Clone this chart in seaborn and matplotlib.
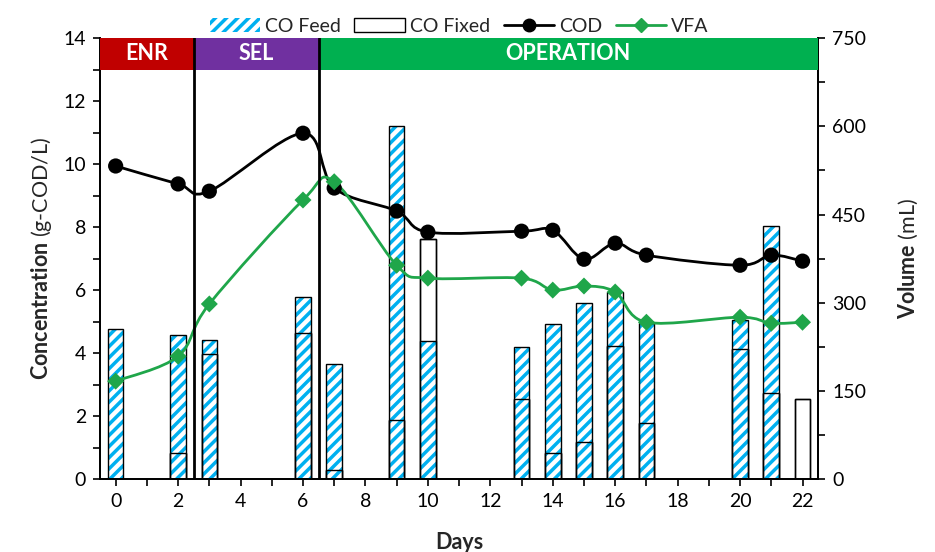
import matplotlib
matplotlib.use("Agg")
import matplotlib.pyplot as plt
import numpy as np
import seaborn as sns
from matplotlib.lines import Line2D
from matplotlib.patches import Patch, PathPatch
from matplotlib.path import Path
from matplotlib.ticker import MultipleLocator

# Days of sampling
days = [0, 2, 3, 6, 7, 9, 10, 13, 14, 15, 16, 17, 20, 21, 22]
# Concentrations (g-COD/L)
cod = [9.94, 9.37, 9.14, 10.98, 9.24, 8.51, 7.84, 7.87, 7.90, 6.98, 7.49, 7.11, 6.79, 7.11, 6.92]
vfa = [3.11, 3.90, 5.56, 8.86, 9.44, 6.79, 6.38, 6.38, 6.00, 6.13, 5.94, 4.98, 5.14, 4.95, 4.98]
# Volumes (mL)
co_feed = [255, 245, 237, 310, 196, 600, 235, 224, 264, 300, 318, 266, 271, 430, 0]
co_fixed = [0, 44, 213, 249, 16, 100, 408, 136, 44, 63, 226, 95, 221, 146, 136]

# Phases
phases = ["ENR", "SEL", "OPERATION"]
phase_edges = [-0.5, 2.5, 6.5, 22.5]
phase_colors = ["#C00000", "#7030A0", "#00B050"]

blue = "#00B0F0"
green = "#1FA64A"

sns.set_theme(style="white")
plt.rcParams["font.family"] = ["Lato", "DejaVu Sans"]
plt.rcParams["mathtext.fontset"] = "custom"
plt.rcParams["mathtext.rm"] = "Lato"
plt.rcParams["mathtext.bf"] = "Lato:bold"
plt.rcParams["hatch.linewidth"] = 2.5


def smooth_path(x, y):
    # Excel-like smoothed line through the points
    pts = np.column_stack([x, y]).astype(float)
    n = len(pts)
    verts = [pts[0]]
    codes = [Path.MOVETO]
    for i in range(n - 1):
        p0 = pts[max(i - 1, 0)]
        p1 = pts[i]
        p2 = pts[i + 1]
        p3 = pts[min(i + 2, n - 1)]
        verts += [p1 + (p2 - p0) / 6, p2 - (p3 - p1) / 6, p2]
        codes += [Path.CURVE4] * 3
    return Path(verts, codes)


fig = plt.figure(figsize=(9.35, 5.52), dpi=100)
ax = fig.add_axes([0.107, 0.132, 0.768, 0.799])
ax2 = ax.twinx()
ax.set_zorder(ax2.get_zorder() + 1)
ax.patch.set_visible(False)

# Bars on the volume axis
w = 0.5
ax2.bar(days, co_fixed, width=w, facecolor="white", edgecolor="black", linewidth=1.0, zorder=1)
ax2.bar(days, co_feed, width=w, facecolor="white", edgecolor=blue, linewidth=0, hatch="///", zorder=2)
ax2.bar(days, co_fixed, width=w, facecolor="none", edgecolor="black", linewidth=1.0, zorder=3)
ax2.bar(days, co_feed, width=w, facecolor="none", edgecolor="black", linewidth=1.0, zorder=3)
ax2.set_ylim(0, 750)
ax2.yaxis.set_major_locator(MultipleLocator(150))
ax2.yaxis.set_minor_locator(MultipleLocator(75))
ax2.set_ylabel(r"$\mathbf{Volume}$ (mL)", fontsize=15.5, labelpad=22)

# Lines on the concentration axis
ax.add_patch(PathPatch(smooth_path(days, cod), facecolor="none", edgecolor="black", lw=2.0, zorder=4))
ax.add_patch(PathPatch(smooth_path(days, vfa), facecolor="none", edgecolor=green, lw=2.0, zorder=4))
sns.scatterplot(x=days, y=cod, ax=ax, color="black", marker="o", s=120, edgecolor="none", zorder=5)
sns.scatterplot(x=days, y=vfa, ax=ax, color=green, marker="D", s=75, edgecolor="none", zorder=5)

# Phase bands and separators
for name, x0, x1, c in zip(phases, phase_edges[:-1], phase_edges[1:], phase_colors):
    ax.fill_between([x0, x1], 13, 14, color=c, zorder=6, linewidth=0)
    ax.text((x0 + x1) / 2, 13.5, name, color="white", fontweight="bold", fontsize=15.5,
            ha="center", va="center", zorder=7)
for xv in phase_edges[1:-1]:
    ax.axvline(xv, color="black", lw=2.0, zorder=7)

ax.set_xlim(-0.5, 22.5)
ax.set_ylim(0, 14)
ax.xaxis.set_major_locator(MultipleLocator(2))
ax.xaxis.set_minor_locator(MultipleLocator(1))
ax.yaxis.set_major_locator(MultipleLocator(2))
ax.yaxis.set_minor_locator(MultipleLocator(1))
ax.set_xlabel("Days", fontsize=15.5, fontweight="bold", labelpad=16)
ax.set_ylabel(r"$\mathbf{Concentration}$ (g-COD/L)", fontsize=15.5, labelpad=7)

for a in (ax, ax2):
    a.tick_params(which="both", direction="out", color="black", width=1.2, labelsize=14, labelcolor="black")
    a.tick_params(which="major", length=5, pad=5)
    a.tick_params(which="minor", length=5)
    for s in a.spines.values():
        s.set_color("black")
        s.set_linewidth(1.3)
ax.tick_params(axis="x", which="both", bottom=True)
ax.tick_params(axis="y", which="both", left=True)
ax2.tick_params(axis="y", which="both", right=True)
ax.spines["top"].set_visible(False)
ax2.spines["top"].set_visible(False)

handles = [
    Patch(facecolor="white", edgecolor=blue, hatch="///", linewidth=0, label="CO Feed"),
    Patch(facecolor="white", edgecolor="black", linewidth=1.0, label="CO Fixed"),
    Line2D([], [], color="black", lw=2, marker="o", markersize=9, label="COD"),
    Line2D([], [], color=green, lw=2, marker="D", markersize=7, label="VFA"),
]
ax.legend(handles=handles, loc="lower center", bbox_to_anchor=(0.5, 0.99), ncol=4, frameon=False,
          fontsize=14, handlelength=2.6, handleheight=0.75, handletextpad=0.25, columnspacing=0.7,
          borderaxespad=0)

fig.savefig("out.png", dpi=100)
